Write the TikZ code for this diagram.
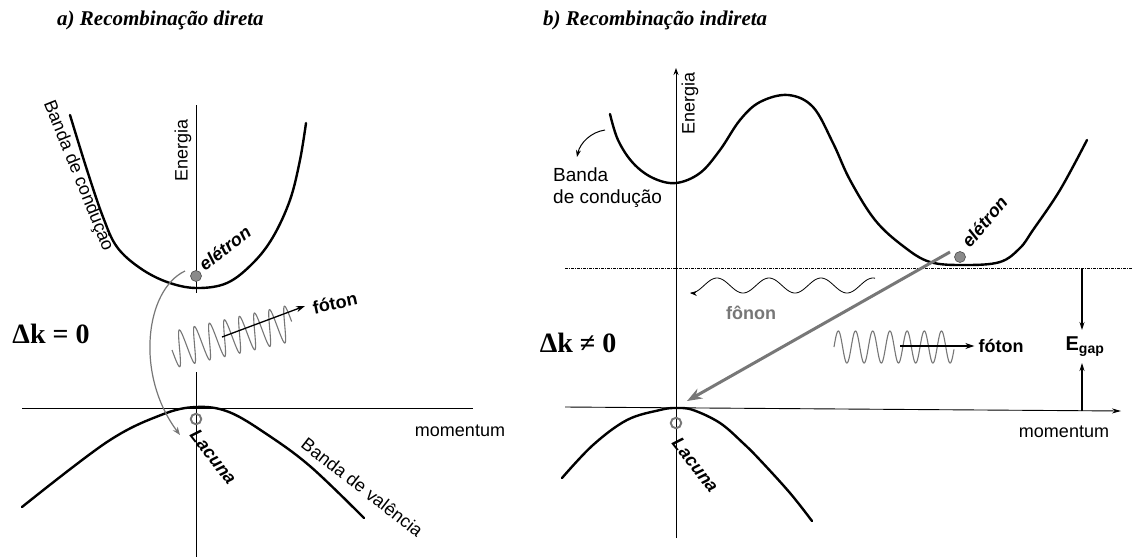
\documentclass[tikz,border=0pt]{standalone}
\usepackage{fontspec}
\setmainfont{Liberation Serif}
\newfontfamily\arialf{Liberation Sans}
\usetikzlibrary{arrows.meta}
\definecolor{gr}{HTML}{777777}
\definecolor{dotfill}{HTML}{8A8A8A}
\begin{document}
\begin{tikzpicture}[x=1pt,y=-1pt,
  band/.style={line width=2.4pt, line cap=round},
  axisline/.style={line width=0.9pt},
  lbl/.style={font=\arialf\fontsize{18}{22}\selectfont, inner sep=0pt},
  lblb/.style={font=\arialf\bfseries\fontsize{18}{20}\selectfont, inner sep=0pt},
  lblbi/.style={font=\arialf\bfseries\itshape\fontsize{18}{20}\selectfont, inner sep=0pt},
  ttl/.style={font=\bfseries\itshape\fontsize{21}{24}\selectfont, inner sep=0pt, anchor=base west},
  dk/.style={font=\bfseries\fontsize{28}{32}\selectfont, inner sep=0pt},
  dot/.style={circle, fill=dotfill, draw=black!70, line width=0.6pt, minimum size=11pt, inner sep=0pt},
  hole/.style={circle, draw=gr, line width=1.9pt, minimum size=10.5pt, inner sep=0pt},
  blk/.style={line width=1.3pt, -{Stealth[length=9pt,width=6pt]}},
  grarrow/.style={gr, line width=1.2pt, -{Stealth[length=8pt,width=6pt]}},
  wave/.style={gr, line width=1.1pt},
  dashln/.style={line width=0.8pt, dash pattern=on 3pt off 1pt on 1pt off 1pt},
  ]
\useasboundingbox[fill=white] (0,0) rectangle (1133,558);

% ---------------- titles ----------------
\node[ttl] (ta) at (57,25) {a) Recombinação direta};
\node[ttl] (tb) at (543,25) {b) Recombinação indireta};

% ================= panel a =================
\draw[axisline] (196,105) -- (196,293);
\draw[axisline] (196,372) -- (196,557);
\draw[axisline] (22,408) -- (473,408);

\draw[band] plot[smooth, tension=0.6] coordinates {(70,115) (87,170) (103,217) (117,247) (140,268) (167,282) (196,288) (227,283) (253,263) (273,237) (290,200) (300,160) (306,123)};
\draw[band] plot[smooth, tension=0.6] coordinates {(22,507) (107,442) (161,415) (196,407) (229,412) (268,435) (311,467) (364,518)};

\node[dot] (e1) at (196,276) {};
\node[hole] (h1) at (196,419) {};

\draw[grarrow] ([shift={(-11,-5)}]e1.center) .. controls (145,290) and (135,375) .. ([shift={(-16,16)}]h1.center);

\begin{scope}[shift={(172,350)}, rotate=12.7]
\draw[wave] plot[domain=0:123, samples=300, smooth] (\x, {18*sin(\x*23.377)});
\end{scope}
\coordinate (pa1) at (222,337);
\coordinate (pa2) at (305,306);
\draw[blk] (pa1) -- (pa2);
\node[lblb, rotate=12] (f1) at (335,303) {fóton};

\node[lbl, rotate=90] (en1) at (183,150) {Energia};
\node[lbl, rotate=-68] (bc1) at (78,176) {Banda de condução};
\node[lblbi, rotate=38, anchor=base west] (el1) at (205,272) {elétron};
\node[lblbi, rotate=-52, anchor=north west] (lac1) at (199,428) {Lacuna};
\node[lbl, rotate=-38, anchor=north west] (bv1) at (308,436) {Banda de valência};
\node[lbl] (mom1) at (460,431) {momentum};
\node[dk] (dk1) at (51,334) {Δk = 0};

% ================= panel b =================
\draw[axisline, -{Stealth[length=7pt,width=5pt]}] (676,538) -- (676,68);
\draw[axisline, -{Stealth[length=9pt,width=5pt]}] (565,407) -- (1121,411);
\draw[dashln] (565,268) -- (1133,268);

\draw[band] plot[smooth, tension=0.6] coordinates {(610,114) (618,140) (633,163) (653,178) (676,183) (700,173) (720,150) (740,120) (760,102) (788,95) (813,107) (833,143) (850,180) (875,220) (903,246) (930,262) (965,265) (1000,262) (1020,248) (1033,230) (1060,190) (1087,140)};
\draw[band] plot[smooth, tension=0.6] coordinates {(562,478) (593,445) (627,420) (660,410) (676,408) (693,410) (720,423) (743,443) (760,460) (790,493) (812,521)};

\node[dot] (e2) at (960,257) {};
\node[hole] (h2) at (676,423) {};

\coordinate (ca1) at (605,130);
\coordinate (ca2) at (577,157);
\draw[line width=1pt, -{Stealth[length=7pt,width=5pt]}] (ca1) .. controls (591,132) and (580,143) .. (ca2);
\node[lbl, font=\arialf\fontsize{19}{22}\selectfont, align=left, anchor=north west] (bc2) at (553,168) {Banda\\de condução};
\node[lbl, rotate=90] (en2) at (690,103) {Energia};
\node[lblbi, rotate=50, anchor=base west] (el2) at (970,249) {elétron};
\node[lblbi, rotate=-52, anchor=north west] (lac2) at (681,436) {Lacuna};
\node[lbl] (mom2) at (1064,432) {momentum};
\node[dk] (dk2) at (578,343) {Δk ≠ 0};

% phonon
\draw[line width=0.8pt, {Stealth[length=7pt,width=5pt]}-] plot[domain=0:185, samples=200, smooth] ({690+\x}, {285.5-7.5*sin((\x-14)*6.923)});
\node[lblb, text=gr] (fn) at (751,313) {fônon};

% big gray arrow
\draw[gr, line width=3pt, -{Stealth[length=15pt,width=11pt]}] ([shift={(-10,-5)}]e2.center) -- ([shift={(11,-22)}]h2.center);

% photon right
\draw[wave] plot[domain=0:120, samples=300, smooth] ({834+\x}, {347-16*sin(\x*20.93)});
\node[lblb] (f2) at (1001,346) {fóton};
\coordinate (pb1) at (900,346);
\draw[blk] (pb1) -- ([xshift=-4pt]f2.west);

% Egap
\node[lblb, font=\arialf\bfseries\fontsize{20}{22}\selectfont] (eg) at (1085,347) {E\textsubscript{gap}};
\coordinate (g1) at (1082,268);
\coordinate (g2) at (1082,330);
\coordinate (g3) at (1082,411);
\coordinate (g4) at (1082,363);
\draw[line width=1.1pt, -{Stealth[length=8pt,width=5pt]}] (g1) -- (g2);
\draw[line width=1.1pt, -{Stealth[length=8pt,width=5pt]}] (g3) -- (g4);
\end{tikzpicture}
\end{document}
